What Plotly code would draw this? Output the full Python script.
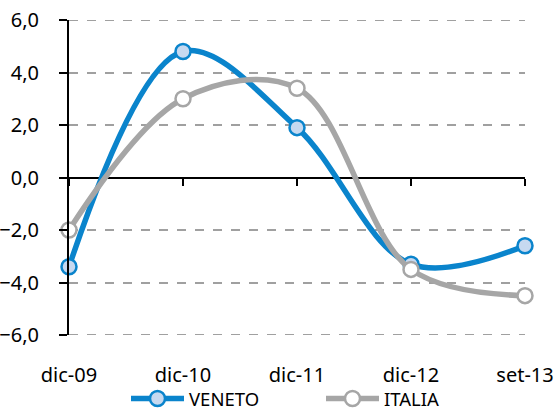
import plotly.graph_objects as go

categories = ["dic-09", "dic-10", "dic-11", "dic-12", "set-13"]
veneto = [-3.4, 4.8, 1.9, -3.3, -2.6]
italia = [-2.0, 3.0, 3.4, -3.5, -4.5]
y_ticks = [-6, -4, -2, 0, 2, 4, 6]

FONT = "Noto Sans"
BLUE = "#0A84CC"
GREY = "#A6A6A6"
GRID = "#A0A0A0"

fig = go.Figure()
fig.add_trace(go.Scatter(
    x=categories, y=veneto, name="VENETO", mode="lines+markers", cliponaxis=False,
    line=dict(color=BLUE, width=5.5, shape="spline", smoothing=1),
    marker=dict(size=15, color="#C6D9F0", line=dict(color=BLUE, width=2.5)),
))
fig.add_trace(go.Scatter(
    x=categories, y=italia, name="ITALIA", mode="lines+markers", cliponaxis=False,
    line=dict(color=GREY, width=5.5, shape="spline", smoothing=1),
    marker=dict(size=15, color="white", line=dict(color=GREY, width=2.5)),
))
# invisible trace to carry the tick marks drawn on the zero line
fig.add_trace(go.Scatter(
    x=categories, y=[0] * len(categories), xaxis="x2", mode="lines",
    line=dict(width=0), hoverinfo="skip", showlegend=False,
))

# grid lines at the two range ends (plotly drops grid lines at the range edges)
for yv in (y_ticks[0], y_ticks[-1]):
    fig.add_shape(type="line", xref="paper", yref="y", x0=0, x1=1, y0=yv, y1=yv,
                  line=dict(color=GRID, width=2, dash="dash"), layer="below")

fig.update_layout(
    width=557, height=410,
    margin=dict(l=69, r=32, t=20, b=75, autoexpand=False),
    paper_bgcolor="white", plot_bgcolor="white",
    separators=",.",
    font=dict(family=FONT, size=20, color="black"),
    showlegend=True,
    legend=dict(orientation="h", x=0.125, xanchor="left",
                y=-0.203, yanchor="middle", bgcolor="rgba(0,0,0,0)",
                font=dict(family=FONT, size=18.5, color="black"), itemwidth=53,
                entrywidth=127, traceorder="normal"),
    xaxis=dict(
        type="category", range=[0, 4], showgrid=False, zeroline=False,
        showline=False, ticks="", ticklabelstandoff=26, automargin=False,
        tickfont=dict(family=FONT, size=20), ticklabeloverflow="allow",
    ),
    xaxis2=dict(
        type="category", range=[0, 4], overlaying="x", anchor="free",
        position=0.5, side="bottom", showgrid=False, zeroline=False,
        showline=False, ticks="outside", ticklen=7, tickwidth=2,
        tickcolor="black", showticklabels=False, automargin=False,
    ),
    yaxis=dict(
        range=[-6, 6], tickvals=y_ticks, tickformat=".1f", automargin=False,
        showgrid=True, gridcolor=GRID, gridwidth=2, griddash="dash",
        zeroline=True, zerolinecolor="black", zerolinewidth=2,
        showline=True, linecolor="black", linewidth=2,
        ticks="outside", ticklen=8, tickwidth=2, tickcolor="black",
        ticklabelstandoff=16, tickfont=dict(family=FONT, size=20),
        ticklabeloverflow="allow",
    ),
)

fig.write_html("out.html", config={"displayModeBar": False},
               post_script="document.body.style.margin='0';")
